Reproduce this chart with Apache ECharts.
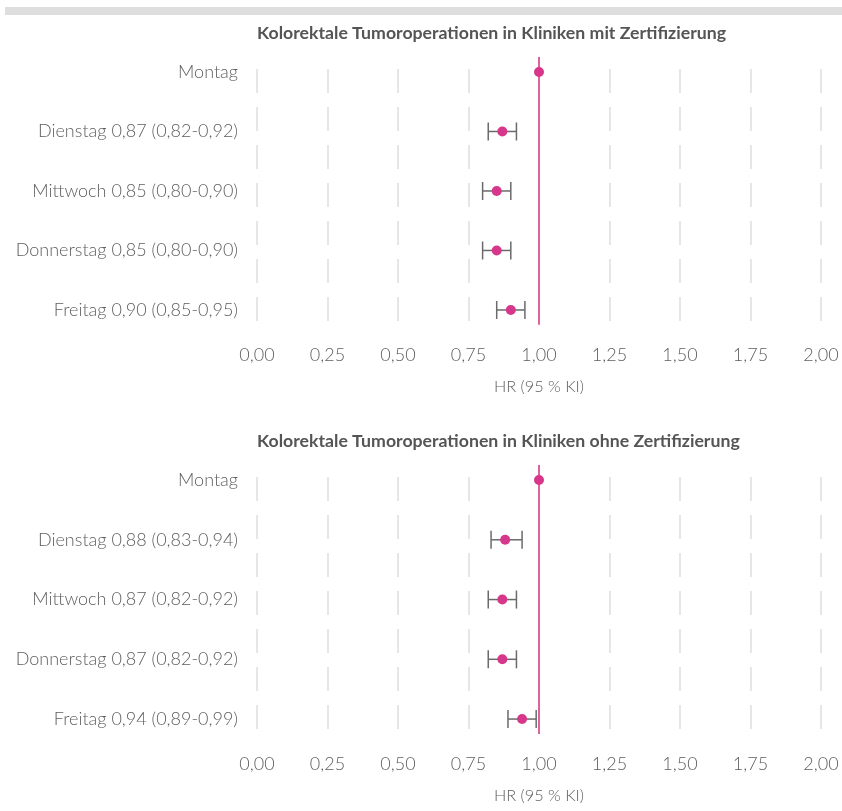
<!DOCTYPE html>
<html>
<head>
<meta charset="utf-8">
<script src="https://cdn.jsdelivr.net/npm/echarts@6/dist/echarts.min.js"></script>
<style>
  html, body { margin: 0; padding: 0; background: #fff; }
  #chart { width: 842px; height: 811px; }
</style>
</head>
<body>
<div id="chart"></div>
<script>
// Weekday hazard ratios (reference: Montag) with 95 % confidence intervals
const days = ['Montag', 'Dienstag', 'Mittwoch', 'Donnerstag', 'Freitag'];

const titleCertified = 'Kolorektale Tumoroperationen in Kliniken mit Zertifizierung';
const hrCertified = [1.00, 0.87, 0.85, 0.85, 0.90];
const lowCertified = [null, 0.82, 0.80, 0.80, 0.85];
const highCertified = [null, 0.92, 0.90, 0.90, 0.95];

const titleUncertified = 'Kolorektale Tumoroperationen in Kliniken ohne Zertifizierung';
const hrUncertified = [1.00, 0.88, 0.87, 0.87, 0.94];
const lowUncertified = [null, 0.83, 0.82, 0.82, 0.89];
const highUncertified = [null, 0.94, 0.92, 0.92, 0.99];

const xTicks = [0, 0.25, 0.5, 0.75, 1, 1.25, 1.5, 1.75, 2];
const axisName = 'HR (95 % KI)';
const referenceHR = 1;

const FONT = 'Lato';
const TEXT = '#5e5e5e';
const PINK = '#d6378a';
const LINE_PINK = '#de629c';
const WHISKER = '#6a6a6a';

const fmt = v => v.toFixed(2).replace('.', ',');

function rowLabel(i, hr, lo, hi) {
  if (lo[i] == null) return days[i];
  return days[i] + ' ' + fmt(hr[i]) + ' (' + fmt(lo[i]) + '-' + fmt(hi[i]) + ')';
}

const grids = [
  { left: 257, width: 564, top: 57.1, height: 267.75 },
  { left: 257, width: 564, top: 465.1, height: 268.9 }
];

function makeAxes(idx, hr, lo, hi) {
  const xAxis = {
    gridIndex: idx,
    type: 'value',
    min: xTicks[0], max: xTicks[xTicks.length - 1], interval: xTicks[1] - xTicks[0],
    axisLine: { show: false },
    axisTick: { show: false },
    axisLabel: {
      margin: 21,
      color: TEXT, fontFamily: FONT, fontSize: 18, fontWeight: 300,
      formatter: v => fmt(v)
    },
    splitLine: {
      show: true,
      lineStyle: { color: '#e6e6e6', width: 2, type: [24, 14], dashOffset: 26 }
    },
    name: axisName,
    nameLocation: 'middle',
    nameGap: 54,
    nameTextStyle: { color: TEXT, fontFamily: FONT, fontSize: 16.3, fontWeight: 300 }
  };
  const yAxis = {
    gridIndex: idx,
    type: 'value',
    inverse: true,
    min: -0.25, max: 4.25,
    axisLine: { show: false },
    axisTick: { show: false },
    splitLine: { show: false },
    axisLabel: {
      customValues: [0, 1, 2, 3, 4],
      margin: 19,
      color: TEXT, fontFamily: FONT, fontSize: 18, fontWeight: 300,
      formatter: v => rowLabel(Math.round(v), hr, lo, hi)
    }
  };
  return { xAxis, yAxis };
}

function makeSeries(idx, hr, lo, hi) {
  const ci = [];
  lo.forEach((l, i) => { if (l != null) ci.push([l, hi[i], i]); });
  return [
    {
      type: 'custom',
      xAxisIndex: idx, yAxisIndex: idx,
      data: ci,
      silent: true,
      z: 2,
      renderItem: function (params, api) {
        const a = api.coord([api.value(0), api.value(2)]);
        const b = api.coord([api.value(1), api.value(2)]);
        const h = 9;
        const style = { stroke: WHISKER, lineWidth: 1.5, fill: null };
        return {
          type: 'group',
          children: [
            { type: 'line', shape: { x1: a[0], y1: a[1], x2: b[0], y2: b[1] }, style },
            { type: 'line', shape: { x1: a[0], y1: a[1] - h, x2: a[0], y2: a[1] + h }, style },
            { type: 'line', shape: { x1: b[0], y1: b[1] - h, x2: b[0], y2: b[1] + h }, style }
          ]
        };
      }
    },
    {
      type: 'scatter',
      xAxisIndex: idx, yAxisIndex: idx,
      data: hr.map((v, i) => [v, i]),
      symbol: 'circle',
      symbolSize: 10,
      itemStyle: { color: PINK, opacity: 1 },
      z: 4,
      markLine: {
        silent: true,
        symbol: 'none',
        label: { show: false },
        lineStyle: { color: LINE_PINK, width: 2, type: 'solid' },
        data: [{ xAxis: referenceHR }],
        z: 3
      }
    }
  ];
}

const axesCertified = makeAxes(0, hrCertified, lowCertified, highCertified);
const axesUncertified = makeAxes(1, hrUncertified, lowUncertified, highUncertified);

const titleStyle = { color: '#555555', fontFamily: FONT, fontSize: 17.7, fontWeight: 'bold' };

const option = {
  animation: false,
  backgroundColor: '#ffffff',
  graphic: [
    {
      type: 'rect',
      shape: { x: 5, y: 7, width: 837, height: 8 },
      style: { fill: '#dedede' },
      silent: true
    }
  ],
  title: [
    { text: titleCertified, left: 252, top: 19, textStyle: titleStyle },
    { text: titleUncertified, left: 252, top: 427, textStyle: titleStyle }
  ],
  grid: grids,
  xAxis: [axesCertified.xAxis, axesUncertified.xAxis],
  yAxis: [axesCertified.yAxis, axesUncertified.yAxis],
  series: [
    ...makeSeries(0, hrCertified, lowCertified, highCertified),
    ...makeSeries(1, hrUncertified, lowUncertified, highUncertified)
  ]
};

const chart = echarts.init(document.getElementById('chart'), null, { renderer: 'canvas' });
chart.setOption(option);
</script>
</body>
</html>
